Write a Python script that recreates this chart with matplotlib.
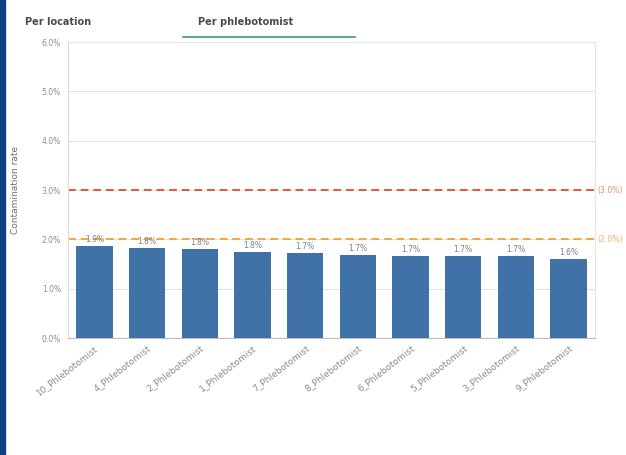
import matplotlib.pyplot as plt
from matplotlib.patches import Rectangle
from matplotlib.lines import Line2D

# data
phlebotomists = ["10_Phlebotomist", "4_Phlebotomist", "2_Phlebotomist", "1_Phlebotomist",
                 "7_Phlebotomist", "8_Phlebotomist", "6_Phlebotomist", "5_Phlebotomist",
                 "3_Phlebotomist", "9_Phlebotomist"]
rates = [1.86, 1.83, 1.80, 1.75, 1.72, 1.68, 1.67, 1.66, 1.66, 1.61]
thresholds = [3.0, 2.0]
threshold_colors = ["#e4573f", "#f2a93b"]
threshold_text_colors = ["#ea8a7c", "#f0b070"]
yticks = [0, 1, 2, 3, 4, 5, 6]

W, H = 626, 455
fig = plt.figure(figsize=(W / 100, H / 100), dpi=100)
ax = fig.add_axes([68 / W, 1 - 338 / H, (595 - 68) / W, (338 - 42) / H])

x = range(len(phlebotomists))
bars = ax.bar(x, rates, width=0.69, color="#4072a8", zorder=3)
for b, v in zip(bars, rates):
    ax.text(b.get_x() + b.get_width() / 2, v + 0.04, f"{v:.1f}%", ha="center", va="bottom",
            fontsize=5.5, color="#808080", zorder=4)

for t, c, tc in zip(thresholds, threshold_colors, threshold_text_colors):
    ax.axhline(t, color=c, linestyle=(0, (4, 2.5)), linewidth=1.4, zorder=2)
    ax.text(1.004, t, f"({t:.1f}%)", transform=ax.get_yaxis_transform(), ha="left",
            va="center", fontsize=5.6, color=tc, clip_on=False)

ax.set_xlim(-0.5, len(phlebotomists) - 0.5)
ax.set_ylim(0, 6)
ax.set_yticks(yticks)
ax.set_yticklabels([f"{v:.1f}%" for v in yticks], fontsize=5.5, color="#8c8c8c")
ax.set_xticks(list(x))
ax.set_xticklabels(phlebotomists, rotation=38, ha="right", rotation_mode="anchor",
                   fontsize=6.5, color="#8c8c8c")
ax.tick_params(axis="both", length=0, pad=5)
ax.tick_params(axis="x", pad=4)
ax.grid(axis="y", color="#e3e3e3", linewidth=0.8, zorder=0)
ax.spines["top"].set_visible(False)
ax.spines["left"].set_color("#dcdcdc")
ax.spines["right"].set_color("#e6e6e6")
ax.spines["bottom"].set_color("#bdbdbd")
ax.set_ylabel("Contamination rate", fontsize=6.5, color="#707070", labelpad=16)

# tab header
fig.text(25 / W, 1 - 22 / H, "Per location", fontsize=7, fontweight="bold", color="#4a4a4a",
         va="center")
fig.text(198 / W, 1 - 22 / H, "Per phlebotomist", fontsize=7, fontweight="bold",
         color="#4a4a4a", va="center")
fig.add_artist(Line2D([183 / W, 355 / W], [1 - 37 / H, 1 - 37 / H], color="#3c9a6e",
                      linewidth=1.2))

# dark blue edge of the screenshot
fig.add_artist(Rectangle((0, 0), 5 / W, 1, transform=fig.transFigure, color="#0b3f86",
                         zorder=10))

fig.savefig("out.png", dpi=100)
